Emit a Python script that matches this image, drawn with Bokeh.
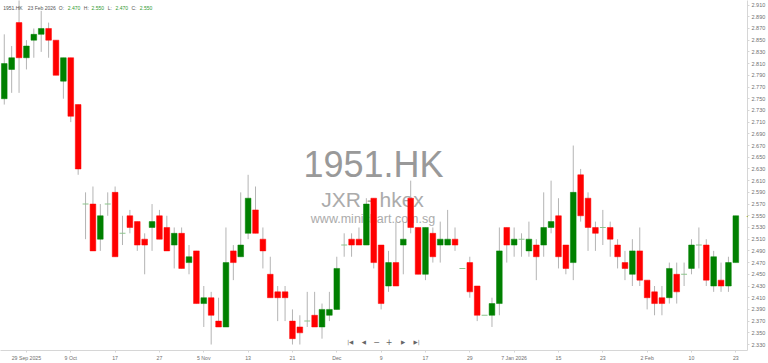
from bokeh.plotting import figure
from bokeh.models import ColumnDataSource, Label, FixedTicker, PrintfTickFormatter
from bokeh.embed import file_html
from bokeh.resources import INLINE

# ---------------- data ----------------
dates = ["24 Sep 2025", "25 Sep 2025", "26 Sep 2025", "29 Sep 2025", "30 Sep 2025",
         "2 Oct 2025", "3 Oct 2025", "6 Oct 2025", "8 Oct 2025", "9 Oct 2025",
         "10 Oct 2025", "13 Oct 2025", "14 Oct 2025", "15 Oct 2025", "16 Oct 2025",
         "17 Oct 2025", "20 Oct 2025", "21 Oct 2025", "22 Oct 2025", "23 Oct 2025",
         "24 Oct 2025", "27 Oct 2025", "28 Oct 2025", "30 Oct 2025", "31 Oct 2025",
         "3 Nov 2025", "4 Nov 2025", "5 Nov 2025", "6 Nov 2025", "7 Nov 2025",
         "10 Nov 2025", "11 Nov 2025", "12 Nov 2025", "13 Nov 2025", "14 Nov 2025",
         "17 Nov 2025", "18 Nov 2025", "19 Nov 2025", "20 Nov 2025", "21 Nov 2025",
         "24 Nov 2025", "25 Nov 2025", "26 Nov 2025", "27 Nov 2025", "28 Nov 2025",
         "1 Dec 2025", "2 Dec 2025", "3 Dec 2025", "4 Dec 2025", "5 Dec 2025",
         "8 Dec 2025", "9 Dec 2025", "10 Dec 2025", "11 Dec 2025", "12 Dec 2025",
         "15 Dec 2025", "16 Dec 2025", "17 Dec 2025", "18 Dec 2025", "19 Dec 2025",
         "22 Dec 2025", "23 Dec 2025", "24 Dec 2025", "29 Dec 2025", "30 Dec 2025",
         "31 Dec 2025", "2 Jan 2026", "5 Jan 2026", "6 Jan 2026", "7 Jan 2026",
         "8 Jan 2026", "9 Jan 2026", "12 Jan 2026", "13 Jan 2026", "14 Jan 2026",
         "15 Jan 2026", "16 Jan 2026", "19 Jan 2026", "20 Jan 2026", "21 Jan 2026",
         "22 Jan 2026", "23 Jan 2026", "26 Jan 2026", "27 Jan 2026", "28 Jan 2026",
         "29 Jan 2026", "30 Jan 2026", "2 Feb 2026", "3 Feb 2026", "4 Feb 2026",
         "5 Feb 2026", "6 Feb 2026", "9 Feb 2026", "10 Feb 2026", "11 Feb 2026",
         "12 Feb 2026", "13 Feb 2026", "16 Feb 2026", "20 Feb 2026", "23 Feb 2026"]

opens = [2.75, 2.80, 2.88, 2.82, 2.85, 2.86, 2.87, 2.85, 2.78, 2.82,
         2.74, 2.57, 2.57, 2.51, 2.57, 2.59, 2.52, 2.55, 2.54, 2.51,
         2.53, 2.55, 2.53, 2.50, 2.52, 2.47, 2.49, 2.40, 2.41, 2.37,
         2.36, 2.49, 2.48, 2.52, 2.56, 2.51, 2.45, 2.42, 2.42, 2.37,
         2.36, 2.37, 2.38, 2.36, 2.38, 2.39, 2.50, 2.51, 2.51, 2.50,
         2.58, 2.50, 2.43, 2.47, 2.50, 2.58, 2.53, 2.45, 2.52, 2.50,
         2.50, 2.51, 2.46, 2.47, 2.43, 2.38, 2.38, 2.40, 2.53, 2.50,
         2.51, 2.49, 2.50, 2.50, 2.53, 2.55, 2.50, 2.47, 2.62, 2.58,
         2.53, 2.53, 2.53, 2.50, 2.47, 2.45, 2.49, 2.44, 2.42, 2.41,
         2.41, 2.45, 2.45, 2.46, 2.50, 2.50, 2.43, 2.44, 2.43, 2.47]
highs = [2.86, 2.84, 2.93, 2.85, 2.87, 2.90, 2.88, 2.85, 2.82, 2.82,
         2.74, 2.59, 2.60, 2.57, 2.59, 2.60, 2.55, 2.56, 2.54, 2.52,
         2.57, 2.56, 2.55, 2.53, 2.53, 2.50, 2.49, 2.43, 2.42, 2.41,
         2.53, 2.50, 2.59, 2.62, 2.60, 2.53, 2.48, 2.43, 2.43, 2.39,
         2.38, 2.42, 2.42, 2.40, 2.42, 2.48, 2.52, 2.52, 2.53, 2.58,
         2.58, 2.50, 2.49, 2.54, 2.54, 2.61, 2.53, 2.53, 2.53, 2.54,
         2.56, 2.53, 2.46, 2.48, 2.43, 2.38, 2.41, 2.53, 2.53, 2.53,
         2.52, 2.54, 2.51, 2.59, 2.61, 2.58, 2.50, 2.67, 2.63, 2.59,
         2.54, 2.56, 2.54, 2.51, 2.49, 2.51, 2.53, 2.44, 2.43, 2.43,
         2.47, 2.47, 2.47, 2.51, 2.53, 2.51, 2.49, 2.47, 2.48, 2.55]
lows = [2.74, 2.76, 2.76, 2.80, 2.82, 2.83, 2.82, 2.79, 2.75, 2.71,
        2.62, 2.51, 2.49, 2.49, 2.55, 2.48, 2.50, 2.52, 2.49, 2.45,
        2.49, 2.51, 2.49, 2.46, 2.46, 2.45, 2.40, 2.36, 2.33, 2.36,
        2.36, 2.44, 2.48, 2.51, 2.52, 2.46, 2.41, 2.37, 2.37, 2.33,
        2.33, 2.36, 2.36, 2.34, 2.37, 2.39, 2.48, 2.48, 2.50, 2.50,
        2.46, 2.39, 2.42, 2.43, 2.45, 2.52, 2.45, 2.44, 2.47, 2.47,
        2.50, 2.49, 2.46, 2.41, 2.37, 2.38, 2.36, 2.38, 2.47, 2.48,
        2.48, 2.48, 2.44, 2.48, 2.52, 2.46, 2.45, 2.44, 2.54, 2.49,
        2.49, 2.50, 2.48, 2.46, 2.44, 2.43, 2.43, 2.39, 2.38, 2.38,
        2.40, 2.40, 2.43, 2.45, 2.46, 2.43, 2.42, 2.42, 2.42, 2.47]
closes = [2.81, 2.82, 2.82, 2.84, 2.86, 2.87, 2.85, 2.79, 2.82, 2.72,
          2.63, 2.57, 2.49, 2.55, 2.57, 2.48, 2.52, 2.53, 2.50, 2.50,
          2.54, 2.51, 2.49, 2.52, 2.46, 2.48, 2.40, 2.41, 2.38, 2.36,
          2.47, 2.47, 2.50, 2.58, 2.52, 2.49, 2.41, 2.41, 2.41, 2.34,
          2.35, 2.37, 2.36, 2.39, 2.39, 2.46, 2.50, 2.50, 2.50, 2.57,
          2.47, 2.40, 2.47, 2.43, 2.51, 2.53, 2.45, 2.53, 2.48, 2.51,
          2.51, 2.50, 2.46, 2.42, 2.38, 2.38, 2.40, 2.49, 2.50, 2.51,
          2.51, 2.51, 2.48, 2.53, 2.54, 2.48, 2.46, 2.59, 2.55, 2.53,
          2.52, 2.53, 2.51, 2.48, 2.46, 2.49, 2.44, 2.41, 2.40, 2.40,
          2.46, 2.42, 2.45, 2.50, 2.50, 2.44, 2.48, 2.43, 2.47, 2.55]

tick_positions = [3, 9, 15, 21, 27, 33, 39, 45, 51, 57, 63, 69, 75, 81, 87, 93, 99]
tick_labels = ["29 Sep 2025", "9 Oct", "17", "27", "5 Nov", "13", "21", "Dec", "9",
               "17", "29", "7 Jan 2026", "15", "23", "2 Feb", "10", "23"]
price_ticks = [2.33 + 0.02 * k for k in range(30)]

symbol = "1951.HK"
subtitle = "JXR - hkex"
site = "www.minichart.com.sg"

# ---------------- layout constants ----------------
W, H = 768, 363
FW, FH = 747, 352
X0, X1 = -0.51, 100.58
Y0, Y1 = 2.3198, 2.9178
GREEN = "#008000"
RED = "#ff0000"
DOJI = "#8cc48c"
WICK = "#b4b4b4"
AXIS = "#d6d6d6"
LABEL = "#707070"

def ypx(py):
    return Y1 - py * (Y1 - Y0) / FH

def xpx(px):
    return X0 + px * (X1 - X0) / FW

xs = list(range(len(opens)))
up = dict(x=[], top=[], bottom=[])
dn = dict(x=[], top=[], bottom=[])
dj = dict(x=[], y=[])
for i, o, c in zip(xs, opens, closes):
    if c > o:
        up["x"].append(i); up["top"].append(c); up["bottom"].append(o)
    elif c < o:
        dn["x"].append(i); dn["top"].append(o); dn["bottom"].append(c)
    else:
        dj["x"].append(i); dj["y"].append(o)

p = figure(width=W, height=H, x_range=(X0, X1), y_range=(Y0, Y1),
           output_backend="svg", toolbar_location=None, y_axis_location="right",
           min_border_left=0, min_border_top=0, min_border_right=W - FW,
           min_border_bottom=H - FH)
p.outline_line_color = None
p.xgrid.visible = False
p.ygrid.visible = False
p.background_fill_color = "white"
p.border_fill_color = "white"

# watermark (behind the candles)
p.add_layout(Label(x=xpx(373), y=ypx(165), text=symbol, text_align="center",
                   text_baseline="alphabetic", text_font_size="36px",
                   text_font="Liberation Sans", text_color="#999999", level="underlay"))
p.add_layout(Label(x=xpx(372), y=ypx(200), text=subtitle, text_align="center",
                   text_baseline="alphabetic", text_font_size="21px",
                   text_font="Liberation Sans", text_color="#ababab", level="underlay"))
p.add_layout(Label(x=xpx(372.5), y=ypx(219.5), text=site, text_align="center",
                   text_baseline="alphabetic", text_font_size="12.5px",
                   text_font="Liberation Sans", text_color="#ababab", level="underlay"))

# candles
src_all = ColumnDataSource(dict(x=xs, h=highs, l=lows))
p.segment(x0="x", y0="l", x1="x", y1="h", source=src_all, line_color=WICK, line_width=1)
p.vbar(x="x", top="top", bottom="bottom", width=0.77, source=ColumnDataSource(up),
       fill_color=GREEN, line_color=GREEN, line_width=0.5)
p.vbar(x="x", top="top", bottom="bottom", width=0.77, source=ColumnDataSource(dn),
       fill_color=RED, line_color=RED, line_width=0.5)
p.rect(x="x", y="y", width=0.8, height=1, height_units="screen",
       source=ColumnDataSource(dj), fill_color=DOJI, line_color=None)

# axes
ya = p.yaxis[0]
ya.ticker = FixedTicker(ticks=price_ticks)
ya.formatter = PrintfTickFormatter(format="%.3f")
ya.axis_line_color = AXIS
ya.major_tick_line_color = AXIS
ya.major_tick_in = 0
ya.major_tick_out = 2
ya.minor_tick_line_color = None
ya.major_label_standoff = 2
ya.major_label_text_font_size = "5.5px"
ya.major_label_text_font = "Liberation Sans"
ya.major_label_text_color = LABEL

xa = p.xaxis[0]
xa.ticker = FixedTicker(ticks=tick_positions)
xa.major_label_overrides = {t: s for t, s in zip(tick_positions, tick_labels)}
xa.axis_line_color = AXIS
xa.major_tick_line_color = AXIS
xa.major_tick_in = 0
xa.major_tick_out = 2
xa.minor_tick_line_color = None
xa.major_label_standoff = 2
xa.major_label_text_font_size = "5.2px"
xa.major_label_text_font = "Liberation Sans"
xa.major_label_text_color = LABEL

# header legend
fmt = "%.3f"
head = [(2.7, symbol, "#555555"), (27.3, dates[-1], "#555555"),
        (58.3, "O:", "#555555"), (67.3, fmt % opens[-1], "#2f9a2f"),
        (83.3, "H:", "#555555"), (91.0, fmt % highs[-1], "#2f9a2f"),
        (107.3, "L:", "#555555"), (115.0, fmt % lows[-1], "#2f9a2f"),
        (131.0, "C:", "#555555"), (139.3, fmt % closes[-1], "#2f9a2f")]
for hx, txt, col in head:
    p.add_layout(Label(x=xpx(hx), y=ypx(7.3), text=txt, text_baseline="middle",
                       text_font_size="5px", text_font="Liberation Sans",
                       text_color=col))

# navigation controls
nav = [(347.6, "|", 5.5), (350.6, "◀", 5.5), (363.3, "◀", 5.5), (376.0, "−", 8),
       (388.5, "+", 8), (402.7, "▶", 5.5), (415.0, "▶", 5.5), (418.3, "|", 5.5)]
for nx, txt, fs in nav:
    p.add_layout(Label(x=xpx(nx), y=ypx(343), text=txt, text_align="center",
                       text_baseline="middle", text_font_size=f"{fs}px",
                       text_font="DejaVu Sans", text_color="#666666"))

# last price tag
p.add_layout(Label(x=746, x_units="screen", y=closes[-1], text="◀",
                   text_baseline="middle", text_font_size="6px",
                   text_font="DejaVu Sans", text_color=GREEN))
p.add_layout(Label(x=750, x_units="screen", y=closes[-1], text=fmt % closes[-1],
                   text_baseline="middle", text_font_size="5.5px",
                   text_font="Liberation Sans", text_color="white",
                   background_fill_color=GREEN, padding=1))

open("out.html", "w").write(file_html(p, INLINE))
